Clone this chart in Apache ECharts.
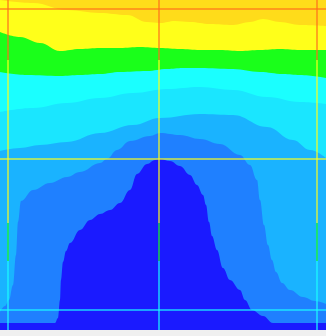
<!DOCTYPE html>
<html>
<head>
<meta charset="utf-8">
<script src="https://cdn.jsdelivr.net/npm/echarts@6/dist/echarts.min.js"></script>
<style>
html,body{margin:0;padding:0;background:#f0f0f0;}
#main{width:326px;height:336px;}
</style>
</head>
<body>
<div id="main"></div>
<script>
// Contour band boundaries: [x, y] with y measured downward (inverse axis)
const goldTop = [[0,0],[326,0]];
const yellowTop = [[0,0],[33,3],[67,10],[100,13],[127,15],[147,22],[160,23],[175,21],[190,22],[210,24],[233,25],[250,22],[263,19],[280,22],[300,25],[326,26]];
const greenTop = [[0,32],[20,37],[40,43],[60,51],[80,49],[100,48],[120,48],[140,47],[160,48],[180,49],[200,50],[220,50],[240,51],[260,50],[280,49],[300,50],[326,50]];
const aquaTop = [[0,72],[27,75],[60,76],[80,75],[100,74],[120,72],[147,71],[167,69],[183,68],[200,68],[233,69],[260,72],[283,74],[300,75],[326,78]];
const cyanTop = [[0,112],[33,108],[67,103],[100,98],[133,93],[167,89],[200,87],[233,90],[267,97],[300,102],[326,104]];
const lightBlueTop = [[0,151],[20,148],[40,145],[67,142],[100,133],[133,125],[160,118],[200,114],[233,115],[267,127],[293,140],[310,150],[326,158]];
const midBlueTop = [[0,312],[5,306],[9,300],[13,285],[16,255],[18,222],[21,201],[33,190],[50,183],[67,177],[80,172],[100,163],[107,159],[117,150],[130,141],[150,136],[160,133],[180,135],[200,139],[220,144],[240,155],[250,165],[257,180],[260,200],[264,225],[268,245],[272,260],[276,272],[282,283],[290,290],[303,297],[315,301],[326,304]];
const darkBlueTop = [[0,323],[55,323],[58,318],[60,300],[61,280],[63,262],[66,251],[70,243],[80,230],[90,220],[100,214],[110,210],[120,203],[130,190],[137,174],[147,164],[155,160],[160,159],[170,161],[180,166],[190,175],[197,185],[203,195],[206,205],[209,222],[212,236],[217,250],[223,268],[230,280],[240,290],[245,300],[252,310],[263,316],[273,323],[326,323]];

const bands = [goldTop, yellowTop, greenTop, aquaTop, cyanTop, lightBlueTop, midBlueTop, darkBlueTop];
const bandColors = ['#ffdc1a','#ffff1a','#1aff1a','#1affff','#1ae6ff','#1ab3ff','#1f80ff','#1a1aff'];

// Crosshair lines
const vLinesX = [8, 159, 317];
const hLinesY = [9, 159, 310];
const lineBreaks = [62, 222, 260];           // y where line colour changes
const lineColors = ['rgba(255,110,26,0.6)','rgba(255,255,26,0.6)','rgba(26,255,26,0.6)','rgba(26,255,255,0.6)'];

const H = 330, W = 326;

function colorAt(y){
  let i = 0;
  while (i < lineBreaks.length && y >= lineBreaks[i]) i++;
  return lineColors[i];
}
function verticalGradient(){
  const stops = [];
  let prev = 0;
  for (let i = 0; i <= lineBreaks.length; i++) {
    const end = i < lineBreaks.length ? lineBreaks[i] / H : 1;
    stops.push({offset: prev, color: lineColors[i]});
    stops.push({offset: end, color: lineColors[i]});
    prev = end;
  }
  return new echarts.graphic.LinearGradient(0, 0, 0, 1, stops);
}

const series = bands.map((b, i) => ({
  type: 'line',
  data: b,
  smooth: 0.4,
  smoothMonotone: 'x',
  symbol: 'none',
  lineStyle: {width: 0},
  areaStyle: {color: bandColors[i], opacity: 1, origin: 'end'},
  silent: true,
  z: 2
}));

vLinesX.forEach(x => {
  series.push({
    type: 'line', data: [[x, 0], [x, H]], symbol: 'none', silent: true, z: 5,
    lineStyle: {width: 2, color: verticalGradient()}
  });
});
hLinesY.forEach(y => {
  series.push({
    type: 'line', data: [[0, y], [W, y]], symbol: 'none', silent: true, z: 5,
    lineStyle: {width: 2, color: colorAt(y)}
  });
});

const chart = echarts.init(document.getElementById('main'), null, {renderer: 'canvas'});
chart.setOption({
  animation: false,
  backgroundColor: '#f0f0f0',
  grid: {left: 0, right: 0, top: 0, height: H, containLabel: false},
  xAxis: {type: 'value', min: 0, max: W, show: false},
  yAxis: {type: 'value', min: 0, max: H, inverse: true, show: false},
  series: series
});
</script>
</body>
</html>
